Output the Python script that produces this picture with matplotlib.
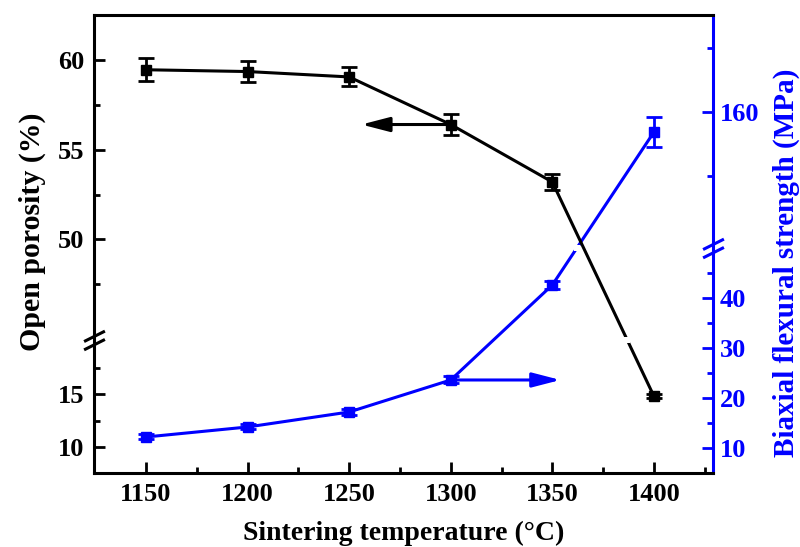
import numpy as np
import matplotlib.pyplot as plt
import matplotlib.transforms as mtransforms
from matplotlib.path import Path
from matplotlib.ticker import FixedLocator

plt.rcParams['font.family'] = ['Liberation Serif', 'DejaVu Serif']
plt.rcParams['font.weight'] = 'bold'

temp = [1150, 1200, 1250, 1300, 1350, 1400]
porosity = [59.45, 59.35, 59.05, 56.4, 53.2, 14.8]
porosity_err = [0.64, 0.6, 0.53, 0.6, 0.45, 0.2]
strength = [12.2, 14.2, 17.2, 23.6, 42.6, 156.8]
strength_err = [0.5, 0.5, 0.6, 0.7, 0.8, 2.3]

# broken axes: (low segment), (high segment), share of height for the low one
por_lo, por_hi, por_frac = (7.55, 20.1), (44.4, 62.5), 0.2904
str_lo, str_hi, str_frac = (5.0, 50.0), (138.7, 175.1), 0.4913

por_major = [10, 15, 50, 55, 60]
por_minor = [12.5, 17.5, 47.5, 52.5, 57.5]
str_major = [10, 20, 30, 40, 160]
str_minor = [15, 25, 35, 45, 150, 170]

BLUE = '#0000ff'


def broken(lo, hi, frac):
    def fwd(v):
        v = np.asarray(v, float)
        a = (v - lo[0]) / (lo[1] - lo[0]) * frac
        b = frac + (v - hi[0]) / (hi[1] - hi[0]) * (1 - frac)
        return np.where(v <= lo[1], a, np.where(v >= hi[0], b, frac))

    def inv(u):
        u = np.asarray(u, float)
        a = lo[0] + u / frac * (lo[1] - lo[0])
        b = hi[0] + (u - frac) / (1 - frac) * (hi[1] - hi[0])
        return np.where(u <= frac, a, b)
    return fwd, inv


slash = Path([(-1, -0.9), (1, 0.1), (-1, -0.1), (1, 0.9)],
             [Path.MOVETO, Path.LINETO, Path.MOVETO, Path.LINETO])


def break_mark(ax, xa, yval, color):
    tr = mtransforms.blended_transform_factory(ax.transAxes, ax.transData)
    ax.plot([xa], [yval], transform=tr, marker=slash, ms=15, mew=2.2,
            mfc='none', color=color, clip_on=False, zorder=6)


def gap(ax, fwd, x, y, yb, color='white'):
    # small white dot where the segment crosses the axis break
    for i in range(len(x) - 1):
        u0, u1 = fwd(y[i]), fwd(y[i + 1])
        ub = fwd(yb)
        if (u0 - ub) * (u1 - ub) < 0:
            t = (u0 - ub) / (u0 - u1)
            xc = x[i] + t * (x[i + 1] - x[i])
            ax.plot([xc], [yb], 's', ms=4, color=color, mew=0, zorder=3)


fig, ax = plt.subplots(figsize=(8, 5.47), dpi=100)
fig.subplots_adjust(left=0.1175, right=0.891, bottom=0.1353, top=0.9726)
ax2 = ax.twinx()
ax.set_zorder(ax2.get_zorder() + 1)
ax.patch.set_visible(False)

pf, pi = broken(por_lo, por_hi, por_frac)
sf, si = broken(str_lo, str_hi, str_frac)
ax.set_yscale('function', functions=(pf, pi))
ax2.set_yscale('function', functions=(sf, si))

arrow = '-|>,head_length=0.85,head_width=0.22'

# strength (right axis)
ax2.errorbar(temp, strength, yerr=strength_err, color=BLUE, marker='s',
             ms=7, lw=2.2, elinewidth=2, capsize=5.5, capthick=2, zorder=2)
gap(ax2, sf, temp, strength, str_lo[1])
ax2.annotate('', xy=(1354, strength[3]), xytext=(temp[3], strength[3]),
             arrowprops=dict(arrowstyle=arrow, mutation_scale=20, lw=2.2,
                             color=BLUE, shrinkA=0, shrinkB=0))

# porosity (left axis)
ax.errorbar(temp, porosity, yerr=porosity_err, color='black', marker='s',
            ms=7, lw=2.2, elinewidth=2, capsize=5.5, capthick=2, zorder=2)
gap(ax, pf, temp, porosity, por_lo[1])
ax.annotate('', xy=(1256, porosity[3]), xytext=(temp[3], porosity[3]),
            arrowprops=dict(arrowstyle=arrow, mutation_scale=20, lw=2.2,
                            color='black', shrinkA=0, shrinkB=0))

ax.set_xlim(1124.4, 1429)
ax.set_ylim(por_lo[0], por_hi[1])
ax2.set_ylim(str_lo[0], str_hi[1])

ax.set_xticks(temp)
ax.xaxis.set_minor_locator(FixedLocator([1175, 1225, 1275, 1325, 1375, 1425]))
ax.yaxis.set_major_locator(FixedLocator(por_major))
ax.yaxis.set_minor_locator(FixedLocator(por_minor))
ax.yaxis.set_major_formatter(lambda v, p: f'{v:g}')
ax2.yaxis.set_major_locator(FixedLocator(str_major))
ax2.yaxis.set_minor_locator(FixedLocator(str_minor))
ax2.yaxis.set_major_formatter(lambda v, p: f'{v:g}')

for a in (ax, ax2):
    for s in a.spines.values():
        s.set_linewidth(2.2)
ax.spines['right'].set_visible(False)
for s in ('left', 'top', 'bottom'):
    ax2.spines[s].set_visible(False)
ax2.spines['right'].set_color(BLUE)

ax.tick_params(which='both', direction='in', width=2, labelsize=19,
               top=False, right=False, pad=7)
ax.tick_params(which='major', length=8)
ax.tick_params(which='minor', length=4)
ax2.tick_params(which='both', direction='in', width=2, labelsize=19,
                color=BLUE, labelcolor=BLUE, pad=5)
ax2.tick_params(which='major', length=8)
ax2.tick_params(which='minor', length=4)

break_mark(ax, 0, por_lo[1], 'black')
break_mark(ax2, 1, str_lo[1], BLUE)

ax.set_xlabel('Sintering temperature (\u00b0C)', fontsize=20,
              fontweight='bold', labelpad=11)
ax.set_ylabel('Open porosity (%)', fontsize=21.5, fontweight='bold')
ax2.set_ylabel('Biaxial flexural strength (MPa)', fontsize=21,
               fontweight='bold', color=BLUE)
ax.yaxis.set_label_coords(-0.078, 0.526)
ax2.yaxis.set_label_coords(1.097, 0.458)

fig.savefig('out.png', dpi=100)
